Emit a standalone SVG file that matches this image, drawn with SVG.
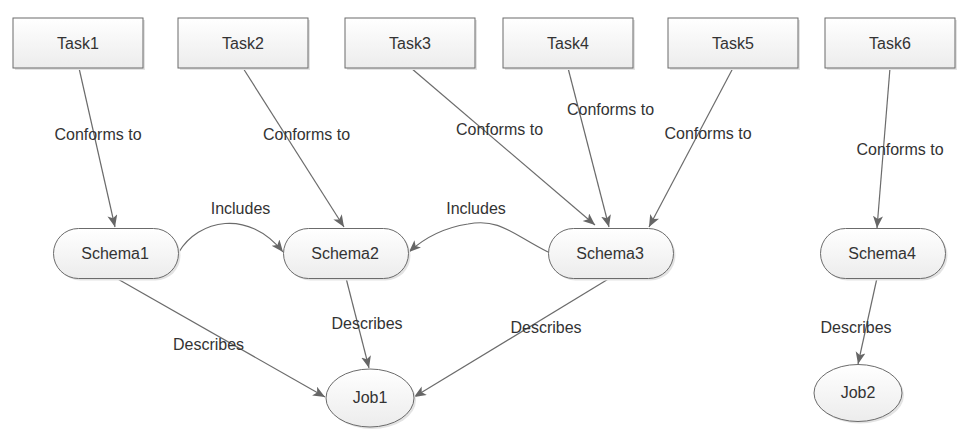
<svg xmlns="http://www.w3.org/2000/svg" width="970" height="444" viewBox="0 0 970 444">
<defs>
<linearGradient id="g" x1="0" y1="0" x2="0" y2="1">
<stop offset="0" stop-color="#ffffff"/>
<stop offset="1" stop-color="#ececec"/>
</linearGradient>
<marker id="arr" markerUnits="userSpaceOnUse" markerWidth="14" markerHeight="12" refX="12" refY="5" orient="auto">
<path d="M0,0 L12,5 L0,10 L3,5 z" fill="#666"/>
</marker>
<style>
.box{fill:url(#g);stroke:#6b6b6b;stroke-width:1}
.sh{fill:#e3e3e3;stroke:none}
.t{font-family:"Liberation Sans",Arial,sans-serif;font-size:16px;fill:#333;text-anchor:middle}
.c{fill:none;stroke:#6b6b6b;stroke-width:1.2;marker-end:url(#arr)}
</style>
</defs>
<rect width="970" height="444" fill="#fff"/>
<g id="connectors">
<line class="c" x1="79" y1="68" x2="115" y2="227"/>
<line class="c" x1="243" y1="68" x2="344" y2="227"/>
<line class="c" x1="411" y1="68" x2="595" y2="225"/>
<line class="c" x1="568" y1="68" x2="609" y2="227"/>
<line class="c" x1="733" y1="68" x2="649" y2="227"/>
<line class="c" x1="890" y1="68" x2="877" y2="228"/>
<path class="c" d="M179,252 C198,220 248,208 283,252"/>
<path class="c" d="M548,252 C512,234 500,218 468,224 C442,228 422,240 409,252"/>
<line class="c" x1="116" y1="278" x2="325" y2="397"/>
<line class="c" x1="346" y1="278" x2="369" y2="368"/>
<line class="c" x1="610" y1="278" x2="414" y2="397"/>
<line class="c" x1="877" y1="278" x2="858" y2="364"/>
<text class="t" x="98" y="140">Conforms to</text>
<text class="t" x="306.5" y="140">Conforms to</text>
<text class="t" x="499.5" y="135">Conforms to</text>
<text class="t" x="610.5" y="115">Conforms to</text>
<text class="t" x="708" y="139">Conforms to</text>
<text class="t" x="900" y="155">Conforms to</text>
<text class="t" x="240.5" y="214">Includes</text>
<text class="t" x="476" y="214">Includes</text>
<text class="t" x="208.5" y="350">Describes</text>
<text class="t" x="367" y="329">Describes</text>
<text class="t" x="546" y="333">Describes</text>
<text class="t" x="856" y="333">Describes</text>
</g>
<g id="task1"><rect class="sh" x="15" y="20" width="130" height="50"/><rect class="box" x="13" y="18" width="130" height="50"/><text class="t" x="78" y="49">Task1</text></g>
<g id="task2"><rect class="sh" x="180" y="20" width="130" height="50"/><rect class="box" x="178" y="18" width="130" height="50"/><text class="t" x="243" y="49">Task2</text></g>
<g id="task3"><rect class="sh" x="347" y="20" width="130" height="50"/><rect class="box" x="345" y="18" width="130" height="50"/><text class="t" x="410" y="49">Task3</text></g>
<g id="task4"><rect class="sh" x="505" y="20" width="130" height="50"/><rect class="box" x="503" y="18" width="130" height="50"/><text class="t" x="568" y="49">Task4</text></g>
<g id="task5"><rect class="sh" x="670" y="20" width="130" height="50"/><rect class="box" x="668" y="18" width="130" height="50"/><text class="t" x="733" y="49">Task5</text></g>
<g id="task6"><rect class="sh" x="827" y="20" width="130" height="50"/><rect class="box" x="825" y="18" width="130" height="50"/><text class="t" x="890" y="49">Task6</text></g>
<g id="schema1"><rect class="sh" x="55.5" y="230.5" width="125" height="50" rx="25"/><rect class="box" x="53.5" y="228.5" width="125" height="50" rx="25"/><text class="t" x="115" y="259">Schema1</text></g>
<g id="schema2"><rect class="sh" x="285.5" y="230.5" width="125" height="50" rx="25"/><rect class="box" x="283.5" y="228.5" width="125" height="50" rx="25"/><text class="t" x="345" y="259">Schema2</text></g>
<g id="schema3"><rect class="sh" x="550.5" y="230.5" width="125" height="50" rx="25"/><rect class="box" x="548.5" y="228.5" width="125" height="50" rx="25"/><text class="t" x="610" y="259">Schema3</text></g>
<g id="schema4"><rect class="sh" x="822.5" y="230.5" width="125" height="50" rx="25"/><rect class="box" x="820.5" y="228.5" width="125" height="50" rx="25"/><text class="t" x="882" y="259">Schema4</text></g>
<g id="job1"><ellipse class="sh" cx="372" cy="400" rx="44" ry="29"/><ellipse class="box" cx="370" cy="398" rx="44" ry="29"/><text class="t" x="370" y="403">Job1</text></g>
<g id="job2"><ellipse class="sh" cx="860" cy="395" rx="44" ry="28.5"/><ellipse class="box" cx="858" cy="393" rx="44" ry="28.5"/><text class="t" x="858" y="398">Job2</text></g>
</svg>
